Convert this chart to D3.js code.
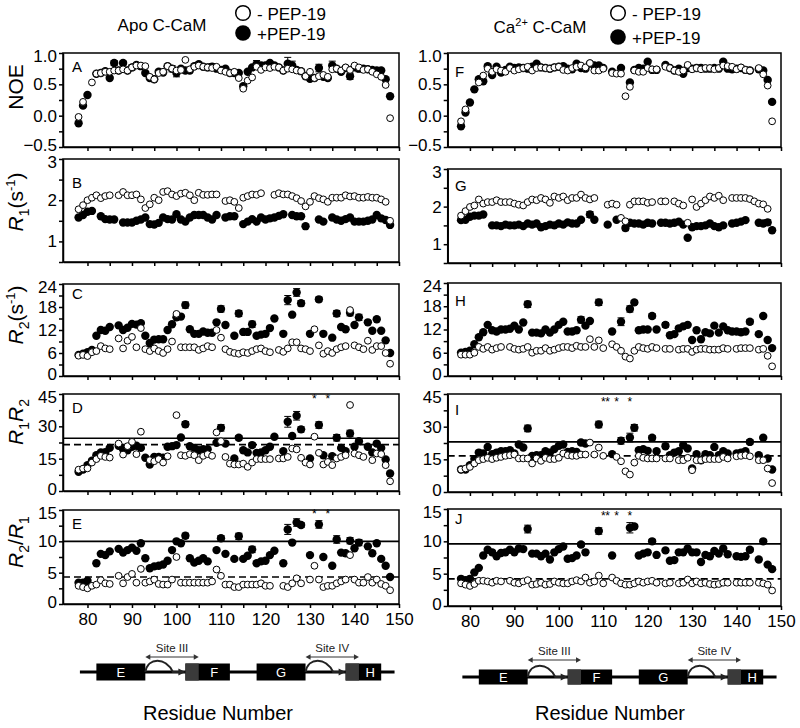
<!DOCTYPE html>
<html>
<head>
<meta charset="utf-8">
<script src="https://cdnjs.cloudflare.com/ajax/libs/d3/7.8.5/d3.min.js"></script>
<style>
  body { margin: 0; background: #fff; }
  svg { font-family: "Liberation Sans", Arial, sans-serif; }
</style>
</head>
<body>
<script>
// residue numbers 78..148, one value per residue, null = not measured
var residues = d3.range(78, 149);

// NOE (A: apo, F: Ca2+)
var apoNoeFree = [-0.02, 0.22, null, 0.53, 0.67, 0.68, 0.70, 0.70, 0.72, 0.72,
  0.74, 0.72, 0.77, 0.80, 0.80, 0.79, 0.62, 0.58, 0.68, 0.70,
  0.79, 0.75, 0.72, 0.73, 0.89, 0.74, 0.78, 0.80, 0.78, 0.77,
  0.76, 0.78, 0.72, 0.70, 0.68, 0.70, 0.60, 0.43, 0.56, 0.61,
  0.78, 0.73, 0.77, 0.76, 0.78, 0.77, 0.72, 0.75, 0.74, 0.72,
  0.71, 0.63, 0.70, 0.60, 0.63, 0.65, 0.62, 0.74, 0.75, 0.72,
  0.77, 0.73, 0.80, 0.77, 0.73, 0.74, 0.70, 0.66, 0.62, 0.49,
  -0.04];
var apoNoeBound = [-0.12, 0.16, 0.33, null, 0.67, 0.68, 0.71, 0.60, 0.84, 0.72,
  0.84, 0.72, 0.77, 0.81, 0.79, 0.68, 0.60, 0.58, 0.70, 0.69,
  0.79, 0.75, 0.68, 0.75, 0.72, 0.72, 0.79, 0.82, 0.78, 0.77,
  0.78, 0.75, 0.73, 0.75, 0.68, 0.68, 0.68, 0.47, 0.70, 0.77,
  0.82, 0.80, 0.80, 0.84, 0.80, 0.77, 0.72, 0.83, 0.80, 0.73,
  0.71, 0.63, 0.59, 0.60, 0.76, 0.62, 0.60, 0.80, 0.75, 0.70,
  0.76, 0.63, 0.77, 0.75, 0.75, 0.74, 0.73, 0.72, 0.72, 0.58,
  0.31];
var caNoeFree = [-0.09, 0.10, null, null, 0.53, 0.64, 0.75, 0.70, 0.74, 0.72,
  0.70, 0.76, 0.72, 0.74, 0.76, 0.78, 0.72, 0.76, 0.77, 0.76,
  0.75, 0.77, 0.78, 0.73, 0.72, 0.76, 0.78, 0.80, 0.77, 0.84,
  0.72, 0.72, 0.75, null, 0.68, 0.67, 0.67, 0.31, 0.46, 0.72,
  0.70, 0.70, 0.76, 0.74, 0.74, null, 0.78, 0.76, 0.72, 0.70,
  0.72, 0.81, 0.74, 0.76, 0.74, 0.76, 0.76, 0.74, 0.76, 0.80,
  0.79, 0.78, 0.74, 0.77, 0.73, 0.72, null, 0.76, 0.66, 0.48,
  -0.09];
var caNoeBound = [-0.17, 0.05, 0.21, 0.42, 0.58, 0.55, 0.79, 0.65, 0.78, 0.69,
  0.73, 0.78, 0.76, 0.77, 0.76, 0.75, 0.78, 0.83, 0.77, 0.76,
  0.75, 0.77, 0.78, 0.79, 0.75, 0.74, 0.83, 0.76, 0.75, 0.83,
  0.80, 0.80, 0.76, null, 0.70, null, 0.76, null, 0.53, 0.73,
  0.76, 0.75, 0.86, 0.73, 0.73, null, 0.81, 0.76, 0.72, 0.75,
  0.67, 0.76, 0.75, 0.76, 0.76, 0.75, 0.75, 0.76, 0.75, 0.86,
  0.75, 0.74, 0.75, 0.76, 0.73, 0.72, null, 0.74, 0.72, 0.57,
  0.22];

// R1 (B, G)
var apoR1Free = [1.78, 1.88, 2.00, 2.06, 2.12, 2.05, 2.10, 2.12, null, 2.12,
  2.20, 2.12, 2.12, 2.14, 2.02, 1.81, 1.90, 2.06, 2.00, 2.20,
  2.22, 2.14, 2.10, 2.16, 2.18, 2.12, 2.00, 2.18, 2.13, 2.13,
  2.14, 2.14, null, 1.98, 2.00, 1.96, 1.81, 2.06, 2.10, 2.14,
  2.13, 2.17, null, null, 2.13, 2.17, 2.14, 2.14, 2.10, 2.05,
  1.98, 1.85, 1.96, 2.10, 2.05, 2.02, 1.96, 2.06, 2.06, 2.06,
  2.12, 2.09, 2.10, 2.06, 2.06, 2.08, 2.06, 2.06, 2.02, 1.96,
  1.50];
var apoR1Bound = [1.58, 1.64, 1.72, 1.74, null, 1.61, 1.54, 1.53, 1.53, null,
  1.46, 1.46, 1.46, 1.50, 1.53, 1.58, 1.42, 1.41, 1.45, 1.58,
  1.54, 1.53, 1.66, 1.53, 1.48, 1.58, 1.64, 1.64, 1.64, 1.58,
  1.53, 1.64, null, 1.58, 1.61, 1.61, null, 1.42, 1.48, 1.54,
  1.48, 1.58, 1.53, 1.56, 1.58, 1.62, 1.66, null, 1.64, 1.61,
  1.61, 1.37, null, null, 1.53, 1.48, null, 1.58, 1.53, 1.50,
  1.54, 1.58, 1.48, 1.48, 1.48, 1.50, 1.53, 1.64, 1.56, 1.52,
  1.40];
var caR1Free = [1.76, 1.88, 1.99, 2.03, 2.19, 2.08, 2.12, 2.12, 2.17, 2.12,
  2.12, 2.12, 2.08, 2.05, 2.03, 2.12, 2.19, 2.17, 2.23, 2.19,
  2.10, 2.27, 2.23, 2.27, 2.17, 2.23, 2.23, 2.32, 2.23, 2.19,
  2.23, null, null, 2.05, 2.08, 2.05, 1.70, 1.61, 2.05, 2.14,
  2.14, 2.14, 2.10, 2.12, null, 2.14, 2.14, null, 2.14, 2.08,
  2.03, 1.57, 2.19, 1.99, 2.08, 2.17, 2.27, 2.23, 2.29, 2.17,
  null, 2.23, 2.23, 2.23, 2.23, 2.20, 2.14, 2.08, 2.06, 1.94,
  null];
var caR1Bound = [1.64, 1.65, 1.73, 1.76, 1.76, 1.79, null, 1.50, 1.50, 1.48,
  1.52, 1.50, 1.50, 1.52, 1.48, 1.55, 1.52, 1.55, 1.45, 1.48,
  1.52, 1.50, 1.55, 1.52, 1.58, 1.55, 1.55, 1.65, null, 1.79,
  1.65, null, null, 1.52, null, 1.65, null, 1.43, 1.57, 1.55,
  1.55, 1.52, 1.57, 1.55, null, 1.57, 1.57, 1.55, 1.57, 1.60,
  1.52, 1.17, 1.45, 1.48, 1.48, 1.50, 1.55, 1.48, 1.45, 1.50,
  null, 1.55, 1.57, 1.60, 1.64, null, null, 1.57, 1.55, 1.58,
  1.37];

// R2 (C, H)
var apoR2Free = [5.3, 5.5, 5.2, 6.2, 6.5, 7.8, 7.2, 7.0, null, 9.8,
  7.2, 9.2, 10.2, 7.5, 12.5, 7.0, 6.5, 7.2, 6.5, 6.0,
  7.0, 9.0, 16.2, 7.5, 7.5, 7.5, 7.5, 6.8, 7.2, 7.8,
  7.5, 12.0, 10.0, 7.0, 6.3, 6.0, 5.8, 6.2, 6.0, 6.5,
  7.0, 7.2, 6.5, 6.2, null, 6.8, 6.3, 7.2, 8.8, 8.8,
  7.2, 7.0, 6.5, 12.2, 8.0, 5.8, 6.5, 6.0, 7.0, 7.5,
  7.8, 17.2, 8.0, 7.5, 7.0, 9.2, 6.8, 7.8, 7.8, 6.0,
  3.2];
var apoR2Bound = [5.5, 5.8, 6.2, 6.8, 10.5, 12.0, 11.8, 12.8, null, 13.2,
  12.0, 12.6, 13.6, 13.4, 13.8, 10.5, 8.6, 9.5, 9.6, 9.6,
  12.0, 13.5, 15.3, 15.5, 18.5, 12.2, 11.0, 11.0, 11.6, 11.3,
  11.3, 14.0, 17.5, 13.3, null, 10.5, 16.3, 11.5, 11.5, 13.5,
  10.5, 10.8, 11.0, 12.5, 15.0, null, 11.0, 19.8, 16.0, 21.8,
  19.0, null, 11.0, null, 20.0, 11.0, null, 10.0, 16.3, 12.8,
  12.2, 16.5, 13.3, 15.3, null, 14.0, 11.8, 14.8, 11.8, 9.3,
  6.0];
var caR2Free = [5.5, 5.5, 5.5, 6.0, 7.5, 7.0, 7.5, 6.8, 7.2, 7.5,
  null, 7.5, 7.0, 6.8, 7.0, 7.5, 6.0, 6.5, 6.5, 7.2,
  6.5, 6.8, 7.2, 7.5, 7.5, 7.2, 7.8, 7.5, 7.5, 9.5,
  7.5, 9.2, 7.2, null, 8.2, 7.5, 6.5, 5.0, 4.5, 6.5,
  7.5, 7.2, 7.0, 7.5, 7.2, null, 7.0, 7.0, null, 6.8,
  7.0, 7.0, 6.2, 6.8, 7.0, 7.0, 6.8, 6.8, 6.8, 7.2,
  7.0, null, 7.0, 7.2, 7.2, 7.2, null, 6.8, 7.0, 5.2,
  2.5];
var caR2Bound = [6.0, 6.2, 6.5, 8.2, 10.0, 11.3, 13.2, 11.8, 11.5, 12.0,
  12.0, 12.2, 13.0, 12.0, 13.8, 18.5, 11.2, 11.2, 11.0, 12.0,
  11.2, 12.0, 13.2, 14.0, 11.5, 11.5, 11.8, 14.5, 13.0, 14.2,
  null, 19.0, null, null, 11.5, null, 14.0, null, 17.3, 19.0,
  11.8, 12.0, 12.0, 15.5, 12.0, null, 13.2, 10.5, 10.8, 12.3,
  12.8, 13.2, 9.3, 11.8, 9.5, 11.3, 11.0, 13.0, 11.2, 12.8,
  11.8, 11.5, 11.5, 11.3, 11.5, 14.0, null, 10.8, 15.5, 9.3,
  7.2];

// R1*R2 (D, I)
var apoR1R2Free = [9.9, 10.4, 10.5, 13.2, 14.8, 16.3, 15.8, 15.5, null, 22.0,
  16.9, 20.8, 22.8, 17.1, 27.5, null, 14.3, 13.8, 14.8, 13.2,
  16.1, null, 35.2, 16.6, 16.3, 17.1, 16.6, 14.3, 16.3, 17.1,
  16.3, 27.2, 23.1, 15.8, 12.7, 12.3, 12.3, 12.7, 11.2, 13.2,
  14.8, 14.8, 14.8, 14.8, null, 15.1, 15.1, 15.8, 19.7, 19.3,
  15.4, 13.2, 12.3, 25.2, 17.7, 12.3, 13.5, 12.0, 15.1, 15.8,
  16.6, 39.9, 17.4, 16.6, 15.8, null, 14.3, 17.4, 17.1, 12.0,
  4.5];
var apoR1R2Bound = [8.9, 10.0, 12.0, 14.0, 16.6, 17.9, 18.0, 20.0, null, 21.0,
  19.4, 18.9, 20.5, 21.0, 20.0, 15.4, 12.3, 15.8, 15.8, 15.4,
  20.5, 20.8, 21.3, 24.8, 31.0, 20.8, 20.0, 18.9, 19.4, 19.4,
  null, 22.4, 29.3, 22.0, null, 15.1, 24.7, 18.9, 17.9, 21.3,
  17.7, 17.9, 18.9, 20.5, 25.2, null, 18.5, 32.1, 25.5, 34.9,
  28.6, null, 15.1, null, 30.6, 16.6, null, 16.1, 24.7, 20.0,
  18.5, 26.7, 20.5, 23.1, null, 20.5, 17.9, 22.0, 20.0, 14.6,
  8.1];
var caR1R2Free = [10.3, 10.8, 11.5, 13.1, 14.6, 15.1, 15.7, 15.1, 15.7, 16.1,
  16.6, 16.9, 17.2, 15.4, 15.4, 15.4, 13.1, 15.4, 14.3, 15.7,
  15.1, 15.1, 15.7, 17.7, 16.9, 16.6, 16.6, 17.2, 17.2, 22.7,
  17.2, 20.4, 16.6, null, null, 16.1, 14.1, 9.5, 8.0, 13.5,
  16.6, 15.7, 15.4, 15.4, 15.4, null, 15.4, 15.4, null, 14.6,
  14.6, 15.7, 10.0, 14.6, 14.6, 15.1, 15.1, 15.1, 15.1, 16.1,
  15.4, null, 16.4, 16.6, 16.9, 16.4, null, 14.6, 14.6, 10.8,
  4.1];
var caR1R2Bound = [10.3, 10.3, 12.3, 15.1, 18.1, 17.7, 20.7, 17.4, 18.1, 18.7,
  18.7, 19.2, 17.7, 21.8, 20.4, 29.2, 16.6, 16.9, 16.9, 18.7,
  18.1, 19.7, 21.2, 21.8, 18.4, 18.7, 18.4, 22.7, 22.3, null,
  null, 31.0, null, null, 17.4, null, 23.5, null, 25.0, 29.5,
  19.2, 19.7, 18.9, 24.9, 18.7, null, 21.0, 16.9, 18.1, 18.7,
  21.5, 20.0, 10.8, 17.4, 14.6, 17.4, 16.9, 20.7, 16.9, 18.7,
  17.7, null, 17.7, 18.1, 18.7, 23.0, null, 16.9, 24.9, 15.4,
  10.3];

// R2/R1 (E, J)
var apoR2R1Free = [2.9, 2.7, 2.5, 2.9, 3.1, 3.8, 3.3, 3.2, null, 4.5,
  3.3, 4.3, 4.8, 3.4, 5.6, 3.4, 3.6, 3.9, 3.2, 3.1,
  3.1, 3.9, 7.5, 3.4, 3.4, 3.4, 3.4, 3.4, 3.4, 3.4,
  3.6, 5.5, 4.5, 3.1, 3.1, 2.7, 2.7, 3.1, 3.1, 3.1,
  3.1, 3.3, 2.9, 2.9, null, null, 2.9, 2.7, 3.3, 4.1,
  3.3, null, 3.9, 6.1, 3.9, 2.7, 2.9, 2.9, 3.3, 3.6,
  3.9, 7.8, 3.9, 3.4, 3.4, 4.3, 3.4, 3.9, 3.2, 2.9,
  2.2];
var apoR2R1Bound = [3.4, 3.4, 3.7, null, 6.5, 8.0, 7.8, 8.4, null, 8.8,
  8.2, 8.6, 9.0, 8.5, 9.7, 7.3, 5.7, 6.0, 6.1, 6.3,
  6.9, 8.6, 10.0, 9.7, 10.9, 7.3, 6.6, 6.9, 7.3, 6.8,
  null, 8.6, 10.5, 8.0, null, 7.2, 10.8, 7.2, 7.7, 8.7,
  6.5, 6.8, 6.9, 7.8, 8.5, null, 6.5, 11.9, 9.8, 13.0,
  12.6, null, 7.8, null, 12.7, 7.5, null, 6.1, 10.3, 8.2,
  8.1, 10.1, 8.9, 9.8, null, 9.2, 8.1, 9.7, 7.2, 6.1,
  4.3];
var caR2R1Free = [3.5, 3.3, 3.1, 3.4, 3.9, 3.9, 3.8, 3.6, 3.9, 3.8,
  null, 3.9, 3.6, 3.5, 3.8, 4.0, 3.3, 3.4, 3.6, 3.3,
  3.4, 3.8, 3.6, 3.5, 3.5, 3.8, 4.0, 3.8, 4.4, 3.6,
  3.8, 4.7, 3.5, null, 4.4, 3.9, 3.5, 3.3, 3.3, 3.5,
  3.8, 3.6, 3.8, 3.9, 3.6, null, 3.5, 3.6, null, 3.5,
  3.6, 4.1, 3.5, 3.8, 3.5, 3.6, 3.4, 3.3, 3.4, 3.6,
  3.6, null, 3.6, 3.6, 3.6, 3.6, null, 3.6, 3.5, 3.3,
  2.4];
var caR2R1Bound = [4.2, 4.0, 4.2, 5.2, 5.9, 7.8, 8.7, 8.3, 7.7, 8.2,
  8.3, 8.7, 8.3, 8.9, 8.8, 11.9, 8.1, 8.1, 7.7, 8.1,
  7.2, 8.3, 8.8, 9.2, 7.3, 7.4, 7.8, 9.5, 8.3, null,
  null, 11.6, null, null, 7.8, null, null, null, 12.1, 12.3,
  7.8, 8.1, 8.3, 10.0, 7.9, null, 8.6, 7.0, 7.1, 8.3,
  8.3, 8.9, 8.3, 8.3, 6.8, 7.9, 7.7, 8.5, 8.1, 8.9,
  8.0, null, 7.7, 7.6, 7.7, 8.7, null, 7.2, 10.0, 6.4,
  5.7];

// error bars (+PEP-19 series)
var apoNoeErrRes = [86, 88, 90, 92, 99, 100, 102, 108, 118, 120, 125, 126, 132, 135, 139, 141];
var apoNoeErr = [0.04, 0.03, 0.04, 0.04, 0.05, 0.06, 0.04, 0.05, 0.06, 0.05, 0.10, 0.07, 0.06, 0.07, 0.05, 0.05];
var caR1ErrRes = [107, 115, 147];
var caR1Err = [0.08, 0.07, 0.07];
var apoErrRes = [102, 110, 114, 117, 125, 127, 128, 132, 136, 139, 141];
var apoR2Err = [0.8, 0.8, 0.8, 0.8, 1.2, 1.0, 0.7, 0.6, 0.8, 0.8, 0.8];
var apoR1R2Err = [1.2, 1.5, 1.0, 1.0, 2.5, 2.0, 1.2, 1.5, 1.5, 1.5, 1.2];
var apoR2R1Err = [0.4, 0.4, 0.5, 0.5, 0.8, 0.6, 0.4, 0.6, 0.6, 0.5, 0.5];
var caErrRes = [93, 105, 109, 114, 116, 117, 121, 124, 143];
var caR2Err = [0.8, 0.8, 0.8, 1.0, 0.8, 0.5, 0.6, 0.6, 0.6];
var caR1R2Err = [1.5, 1.0, 1.5, 1.5, 2.0, 1.5, 1.0, 1.0, 1.0];
var caR2R1Err = [0.6, 0.3, 0.5, 0.5, 0.8, 0.3, 0.3, 0.3, 0.3];

// reference lines (solid, dashed)
var apoR1R2Lines = [24.5, 21.5];
var caR1R2Lines = [23.0, 16.6];
var apoR2R1Lines = [10.0, 4.3];
var caR2R1Lines = [9.6, 4.2];

// residues marked with an asterisk
var apoStars = [131, 134];
var caStars = [110, 111, 113, 116];

// secondary structure
var helixNames = ["E", "F", "G", "H"];
var helixStart = [82, 102, 118, 138];
var helixEnd = [93, 112, 129, 146];
var loopTail = [null, 105, null, 141];
var siteNames = ["Site III", "Site IV"];
var siteStart = [93, 129];
var siteEnd = [105, 141];
var chain = [78.3, 149];

var xTicks = d3.range(80, 151, 5);

var svg = d3.select("body").append("svg")
    .attr("width", 800)
    .attr("height", 728);

var cols = [
  {left: 63, right: 399, domain: [74.5, 150], title: "Apo C-CaM", titleX: 162, legX: 243, labelX: 72, axisTitles: true,
   diagY: 672, boxH: 17, siteY: 657, residueX: 218},
  {left: 447.7, right: 781, domain: [75, 150], title: null, titleX: 540, legX: 618, labelX: 455, axisTitles: false,
   diagY: 677, boxH: 15, siteY: 660, residueX: 610}
];
cols.forEach(function(c){
  c.x = d3.scaleLinear().domain(c.domain).range([c.left, c.right]);
});

var yTitles = [
  [{t: "NOE"}],
  [{t: "R", i: 1}, {t: "1", s: 1}, {t: "(s"}, {t: "-1", u: 1}, {t: ")"}],
  [{t: "R", i: 1}, {t: "2", s: 1}, {t: "(s"}, {t: "-1", u: 1}, {t: ")"}],
  [{t: "R", i: 1}, {t: "1", s: 1}, {t: "R", i: 1}, {t: "2", s: 1}],
  [{t: "R", i: 1}, {t: "2", s: 1}, {t: "/"}, {t: "R", i: 1}, {t: "1", s: 1}]
];

var panels = [
  {col: 0, row: 0, letter: "A", top: 53, bottom: 147, letterY: 72, titleY: 87, domain: [-0.5, 1], step: 0.25, label: 0.5, fmt: d3.format(".1f"),
   free: apoNoeFree, bound: apoNoeBound, errRes: apoNoeErrRes, err: apoNoeErr},
  {col: 0, row: 1, letter: "B", top: 159, bottom: 262, letterY: 188, titleY: 202, domain: [0.5, 3], step: 0.5, label: 1, fmt: d3.format("d"),
   free: apoR1Free, bound: apoR1Bound},
  {col: 0, row: 2, letter: "C", top: 284, bottom: 376, letterY: 299, titleY: 315, domain: [0, 24], step: 3, label: 6, fmt: d3.format("d"),
   free: apoR2Free, bound: apoR2Bound, errRes: apoErrRes, err: apoR2Err},
  {col: 0, row: 3, letter: "D", top: 394, bottom: 491, letterY: 413, titleY: 422, domain: [0, 45], step: 7.5, label: 15, fmt: d3.format("d"),
   free: apoR1R2Free, bound: apoR1R2Bound, errRes: apoErrRes, err: apoR1R2Err, lines: apoR1R2Lines, stars: apoStars, starY: 403},
  {col: 0, row: 4, letter: "E", top: 510, bottom: 604, letterY: 529, titleY: 542, domain: [0, 15], step: 2.5, label: 5, fmt: d3.format("d"),
   free: apoR2R1Free, bound: apoR2R1Bound, errRes: apoErrRes, err: apoR2R1Err, lines: apoR2R1Lines, stars: apoStars, starY: 518, last: true},
  {col: 1, row: 0, letter: "F", top: 53, bottom: 147, letterY: 77, domain: [-0.5, 1], step: 0.25, label: 0.5, fmt: d3.format(".1f"),
   free: caNoeFree, bound: caNoeBound},
  {col: 1, row: 1, letter: "G", top: 169, bottom: 263, letterY: 191, domain: [0.5, 3], step: 0.5, label: 1, fmt: d3.format("d"),
   free: caR1Free, bound: caR1Bound, errRes: caR1ErrRes, err: caR1Err},
  {col: 1, row: 2, letter: "H", top: 283, bottom: 376, letterY: 306, domain: [0, 24], step: 3, label: 6, fmt: d3.format("d"),
   free: caR2Free, bound: caR2Bound, errRes: caErrRes, err: caR2Err},
  {col: 1, row: 3, letter: "I", top: 394, bottom: 492, letterY: 415, domain: [0, 45], step: 7.5, label: 15, fmt: d3.format("d"),
   free: caR1R2Free, bound: caR1R2Bound, errRes: caErrRes, err: caR1R2Err, lines: caR1R2Lines, stars: caStars, starY: 406},
  {col: 1, row: 4, letter: "J", top: 509, bottom: 606, letterY: 524, domain: [0, 15], step: 2.5, label: 5, fmt: d3.format("d"),
   free: caR2R1Free, bound: caR2R1Bound, errRes: caErrRes, err: caR2R1Err, lines: caR2R1Lines, stars: caStars, starY: 520, last: true}
];

function pairs(vals){
  return residues.map(function(r, i){ return {r: r, v: vals[i]}; })
    .filter(function(d){ return d.v != null; });
}

panels.forEach(function(p){
  var c = cols[p.col];
  var x = c.x;
  var y = d3.scaleLinear().domain(p.domain).range([p.bottom, p.top]);
  var g = svg.append("g");

  g.append("rect")
    .attr("x", c.left).attr("y", p.top)
    .attr("width", c.right - c.left).attr("height", p.bottom - p.top)
    .attr("fill", "none").attr("stroke", "#000").attr("stroke-width", 1.5);

  if (p.lines) {
    g.selectAll("line.ref").data(p.lines).enter().append("line")
      .attr("class", "ref")
      .attr("x1", c.left).attr("x2", c.right)
      .attr("y1", function(d){ return y(d); }).attr("y2", function(d){ return y(d); })
      .attr("stroke", "#000").attr("stroke-width", 1.6)
      .attr("stroke-dasharray", function(d, i){ return i === 1 ? "7,4" : null; });
  }

  var xa = d3.axisBottom(x).tickValues(xTicks).tickSize(4).tickSizeOuter(0).tickPadding(5)
    .tickFormat(function(d){ return (p.last && d % 10 === 0) ? d : ""; });
  var gx = g.append("g").attr("transform", "translate(0," + p.bottom + ")").call(xa)
    .attr("font-family", null).attr("font-size", null);
  gx.selectAll("text").style("font-size", "17px").attr("fill", "#000");

  var yt = d3.range(p.domain[0], p.domain[1] + p.step / 2, p.step);
  var ya = d3.axisLeft(y).tickValues(yt).tickSize(4).tickSizeOuter(0).tickPadding(2)
    .tickFormat(function(d){
      var k = d / p.label;
      return Math.abs(k - Math.round(k)) < 1e-6 ? p.fmt(d) : "";
    });
  var gy = g.append("g").attr("transform", "translate(" + c.left + ",0)").call(ya)
    .attr("font-family", null).attr("font-size", null);
  gy.selectAll("text").style("font-size", "17px").attr("fill", "#000")
    .attr("dy", function(d){
      // keep the end labels of stacked panels from touching
      if (Math.abs(d - p.domain[1]) < 1e-6) return "0.5em";
      if (Math.abs(d - p.domain[0]) < 1e-6) return "0.2em";
      return "0.32em";
    });
  g.selectAll(".domain, .tick line").attr("stroke", "#000").attr("stroke-width", 1.5);

  g.append("text").attr("x", c.labelX).attr("y", p.letterY)
    .style("font-size", "15px").attr("fill", "#000").text(p.letter);

  if (p.stars) {
    g.selectAll("text.star").data(p.stars).enter().append("text")
      .attr("class", "star")
      .attr("x", function(d){ return x(d); }).attr("y", p.starY)
      .attr("text-anchor", "middle").attr("fill", "#000").style("font-size", "12px").text("*");
  }

  // error bars
  if (p.errRes) {
    var eb = p.errRes.map(function(r, i){
      return {r: r, v: p.bound[residues.indexOf(r)], e: p.err[i]};
    }).filter(function(d){ return d.v != null; });
    var ge = g.append("g").attr("stroke", "#000").attr("stroke-width", 1);
    eb.forEach(function(d){
      var cx = x(d.r), y0 = y(d.v - d.e), y1 = y(d.v + d.e);
      ge.append("line").attr("x1", cx).attr("x2", cx).attr("y1", y0).attr("y2", y1);
      ge.append("line").attr("x1", cx - 3.5).attr("x2", cx + 3.5).attr("y1", y0).attr("y2", y0);
      ge.append("line").attr("x1", cx - 3.5).attr("x2", cx + 3.5).attr("y1", y1).attr("y2", y1);
    });
  }

  g.append("g").selectAll("circle").data(pairs(p.bound)).enter().append("circle")
    .attr("cx", function(d){ return x(d.r); })
    .attr("cy", function(d){ return y(d.v); })
    .attr("r", 4.2).attr("fill", "#000");

  g.append("g").selectAll("circle").data(pairs(p.free)).enter().append("circle")
    .attr("cx", function(d){ return x(d.r); })
    .attr("cy", function(d){ return y(d.v); })
    .attr("r", 3.4).attr("fill", "#fff").attr("stroke", "#000").attr("stroke-width", 1);

  if (c.axisTitles) {
    var tt = g.append("text")
      .attr("transform", "translate(23," + p.titleY + ") rotate(-90)")
      .attr("text-anchor", "middle").style("font-size", "21px");
    var shift = 0;
    yTitles[p.row].forEach(function(part){
      var dy = 0, size = null;
      if (part.s) { dy = 6 - shift; shift = 6; size = "14px"; }
      else if (part.u) { dy = -8 - shift; shift = -8; size = "13px"; }
      else { dy = -shift; shift = 0; }
      tt.append("tspan").attr("dy", dy || null)
        .style("font-style", part.i ? "italic" : null)
        .style("font-size", size)
        .text(part.t);
    });
  }
});

// titles and legends
cols.forEach(function(c, ci){
  var t = svg.append("text").attr("x", c.titleX).attr("y", 31 + ci * 2)
    .attr("text-anchor", "middle").style("font-size", "17px");
  if (ci === 0) {
    t.text(c.title);
  } else {
    t.append("tspan").text("Ca");
    t.append("tspan").attr("dy", -7).style("font-size", "11px").text("2+");
    t.append("tspan").attr("dy", 7).text(" C-CaM");
  }
  var ly = ci === 0 ? [13, 33] : [13, 37];
  svg.append("circle").attr("cx", c.legX).attr("cy", ly[0]).attr("r", 7.3)
    .attr("fill", "#fff").attr("stroke", "#000").attr("stroke-width", 1.5);
  svg.append("circle").attr("cx", c.legX).attr("cy", ly[1]).attr("r", 7.8).attr("fill", "#000");
  svg.append("text").attr("x", c.legX + 14).attr("y", ly[0] + 7).style("font-size", "17px").text("- PEP-19");
  svg.append("text").attr("x", c.legX + 14).attr("y", ly[1] + 7).style("font-size", "17px").text("+PEP-19");

  // secondary structure diagram
  var x = c.x, yc = c.diagY, h = c.boxH;
  var gd = svg.append("g");
  gd.append("line").attr("x1", x(chain[0])).attr("x2", x(chain[1]))
    .attr("y1", yc).attr("y2", yc).attr("stroke", "#000").attr("stroke-width", 3);
  helixNames.forEach(function(n, i){
    gd.append("rect").attr("x", x(helixStart[i])).attr("y", yc - h / 2)
      .attr("width", x(helixEnd[i]) - x(helixStart[i])).attr("height", h).attr("fill", "#000");
    if (loopTail[i] != null) {
      gd.append("rect").attr("x", x(helixStart[i])).attr("y", yc - h / 2)
        .attr("width", x(loopTail[i]) - x(helixStart[i])).attr("height", h).attr("fill", "#3a3a3a");
    }
    var mid = loopTail[i] != null ? (x(loopTail[i]) + x(helixEnd[i])) / 2 : (x(helixStart[i]) + x(helixEnd[i])) / 2;
    gd.append("text").attr("x", mid).attr("y", yc + 4.5).attr("text-anchor", "middle")
      .attr("fill", "#fff").style("font-size", "13px").text(n);
  });
  siteNames.forEach(function(n, i){
    var a = x(siteStart[i]), b = x(siteEnd[i]);
    var helixB = x(helixStart[i * 2 + 1]);
    // loop arrow
    gd.append("path")
      .attr("d", "M" + a + "," + yc + " C" + x(siteStart[i] + 0.6) + "," + (yc - 15) + " " +
        x(siteStart[i] + 4.6) + "," + (yc - 15) + " " + x(siteStart[i] + 6.2) + "," + yc +
        " L" + (helixB - 5) + "," + yc)
      .attr("fill", "none").attr("stroke", "#222").attr("stroke-width", 2);
    gd.append("path").attr("d", "M" + helixB + "," + yc + " l-7,-3.5 l0,7 z").attr("fill", "#222");
    // site span
    gd.append("line").attr("x1", a + 2).attr("x2", b - 2).attr("y1", c.siteY).attr("y2", c.siteY)
      .attr("stroke", "#333").attr("stroke-width", 1.2);
    gd.append("path").attr("d", "M" + a + "," + c.siteY + " l5,-2.8 l0,5.6 z").attr("fill", "#333");
    gd.append("path").attr("d", "M" + b + "," + c.siteY + " l-5,-2.8 l0,5.6 z").attr("fill", "#333");
    gd.append("text").attr("x", (a + b) / 2).attr("y", c.siteY - 5).attr("text-anchor", "middle")
      .style("font-size", "11.5px").attr("fill", "#222").text(n);
  });

  svg.append("text").attr("x", c.residueX).attr("y", 720).attr("text-anchor", "middle")
    .style("font-size", "20px").text("Residue Number");
});
</script>
</body>
</html>
